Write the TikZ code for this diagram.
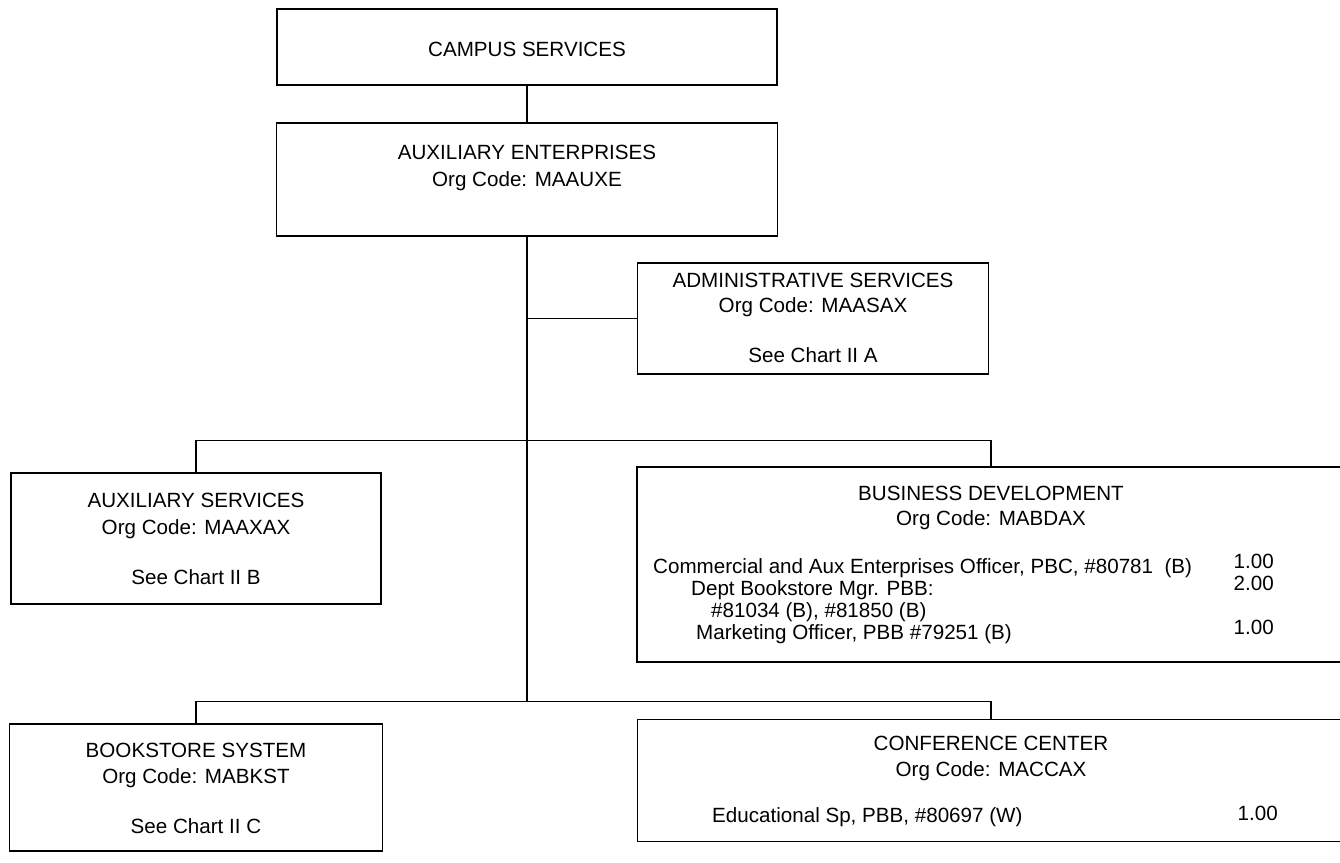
\documentclass[tikz,border=0pt]{standalone}
\usepackage{fontspec}
\setmainfont{Liberation Sans}
\tikzset{
  unitbox/.style={draw, line width=1.8pt, inner sep=0pt},
  link/.style={line width=1.8pt},
  title/.style={inner sep=0pt, anchor=base, font=\fontsize{20.6}{25}\selectfont},
  entry/.style={title, anchor=base west},
  fte/.style={title, anchor=base east},
  posts/.style={inner sep=0pt, anchor=north west, align=left, font=\fontsize{20.6}{22}\selectfont},
  ftes/.style={inner sep=0pt, anchor=north east, align=right, font=\fontsize{20.6}{22}\selectfont}
}
\begin{document}
\begin{tikzpicture}[x=1pt, y=-1pt]
	\useasboundingbox (0,0) rectangle (1340,862);

	\node[unitbox, minimum width=500pt, minimum height=76pt]  (campus)  at (527,47) {};
	\node[unitbox, minimum width=501pt, minimum height=113pt] (auxent)  at (527,179.5) {};
	\node[unitbox, minimum width=351pt, minimum height=111pt] (admin)   at (813,318.5) {};
	\node[unitbox, minimum width=370pt, minimum height=131pt] (auxserv) at (196,538.5) {};
	\node[unitbox, minimum width=708pt, minimum height=195pt] (busdev)  at (991,564.5) {};
	\node[unitbox, minimum width=373pt, minimum height=127pt] (bookst)  at (196,787.5) {};
	\node[unitbox, minimum width=707pt, minimum height=122pt] (confer)  at (991,780.5) {};

	\coordinate (upbar)  at (527,440.5);
	\coordinate (lowbar) at (527,701.5);

	\draw[link] (campus) -- (auxent);
	\draw[link] (auxent.south) -- (lowbar);
	\draw[link] (admin.west) -- (admin.west -| auxent.south);
	\draw[link] (auxserv.north) |- (upbar) -| (busdev.north);
	\draw[link] (bookst.north) |- (lowbar) -| (confer.north);

	\node[title] (campus1) at (527,56) {CAMPUS SERVICES};

	\node[title] (auxent1) at (527,159) {AUXILIARY ENTERPRISES};
	\node[title] (auxent2) at (527,186) {Org Code: MAAUXE};

	\node[title] (admin1) at (813,287.5) {ADMINISTRATIVE SERVICES};
	\node[title] (admin2) at (813,312.5) {Org Code: MAASAX};
	\node[title] (admin3) at (813,362.5) {See Chart II A};

	\node[title] (auxserv1) at (196,507) {AUXILIARY SERVICES};
	\node[title] (auxserv2) at (196,534) {Org Code: MAAXAX};
	\node[title] (auxserv3) at (196,584) {See Chart II B};

	\node[title] (busdev1) at (991,500) {BUSINESS DEVELOPMENT};
	\node[title] (busdev2) at (991,525) {Org Code: MABDAX};
	\node[posts] (busdev3) at (653,558) {Commercial and Aux Enterprises Officer, PBC, \#80781\ \ (B)\\
		\hspace*{38pt}Dept Bookstore Mgr. PBB:\\
		\hspace*{58pt}\#81034 (B), \#81850 (B)\\
		\hspace*{43pt}Marketing Officer, PBB \#79251 (B)};
	\node[ftes] (busfte) at (1274,554) {1.00\\2.00\\[22pt]1.00};

	\node[title] (bookst1) at (196,757) {BOOKSTORE SYSTEM};
	\node[title] (bookst2) at (196,783.5) {Org Code: MABKST};
	\node[title] (bookst3) at (196,833.5) {See Chart II C};

	\node[title] (confer1) at (991,750.5) {CONFERENCE CENTER};
	\node[title] (confer2) at (991,776.5) {Org Code: MACCAX};
	\node[entry] (confer3) at (712,822.5) {Educational Sp, PBB, \#80697 (W)};
	\node[fte] (confte) at (1278,820) {1.00};
\end{tikzpicture}
\end{document}
